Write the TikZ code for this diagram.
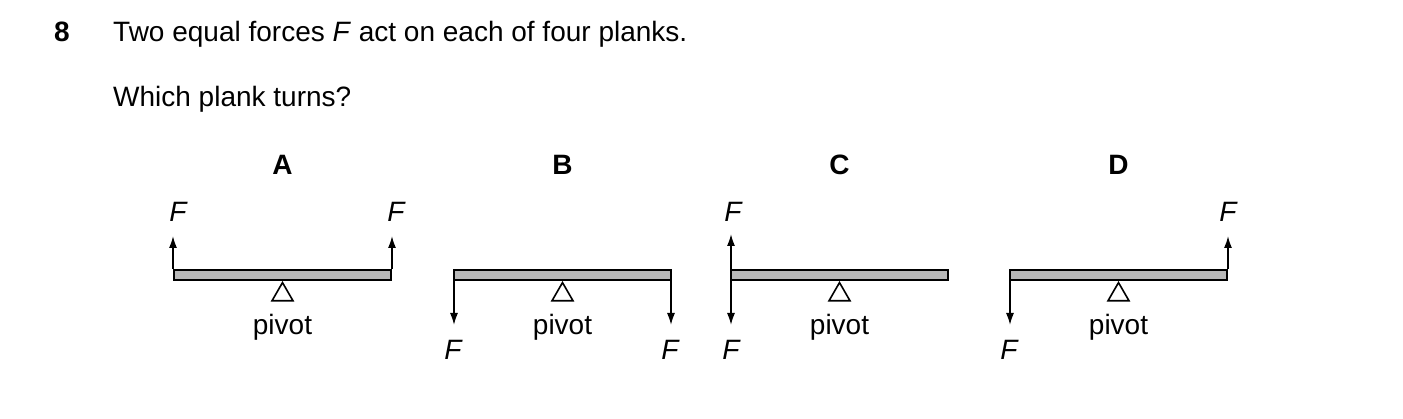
\documentclass[tikz,border=0pt]{standalone}
\usepackage{fontspec}
\setmainfont{Liberation Sans}
\usetikzlibrary{arrows.meta,shapes.geometric}
\tikzset{
  plank/.style={draw,line width=2.5pt,fill=black!28,minimum width=217pt,minimum height=10pt,inner sep=0pt},
  pivot/.style={draw,line width=1.6pt,isosceles triangle,isosceles triangle apex angle=60,shape border rotate=90,minimum width=21pt,minimum height=18pt,inner sep=0pt,fill=white},
  force/.style={line width=1.6pt,-{Latex[length=12pt,width=8pt]}},
  txt/.style={font=\fontsize{28}{33}\selectfont,inner sep=0pt},
  flabel/.style={txt,font=\fontsize{28}{33}\selectfont\itshape},
}
\begin{document}
\begin{tikzpicture}[x=1pt,y=-1pt]
\useasboundingbox (0,0) rectangle (1403,419);
\node[txt,font=\fontsize{28}{33}\selectfont\bfseries,anchor=base west] (num) at (54,42) {8};
\node[txt,anchor=base west] (q1) at (113,42) {Two equal forces \textit{F} act on each of four planks.};
\node[txt,anchor=base west] (q2) at (113,107) {Which plank turns?};
% the four planks
\foreach \name/\x in {A/282.5,B/562.5,C/839.5,D/1118.5}{
  \node[txt,font=\fontsize{28}{33}\selectfont\bfseries] (lab\name) at (\x,165) {\name};
  \node[plank] (p\name) at (\x,275) {};
  \node[pivot,anchor=apex] (t\name) at (\x,281) {};
  \node[txt] (v\name) at (\x,327) {pivot};
}
% forces
\coordinate (aA1) at (173,236); \coordinate (aA2) at (392,236);
\draw[force] (aA1 |- pA.north) -- (aA1);
\draw[force] (aA2 |- pA.north) -- (aA2);
\node[flabel] (fA1) at (178,212) {F};
\node[flabel] (fA2) at (396,212) {F};
\coordinate (aB1) at (454,325); \coordinate (aB2) at (671,325);
\draw[force] (aB1 |- pB.south) -- (aB1);
\draw[force] (aB2 |- pB.south) -- (aB2);
\node[flabel] (fB1) at (453,350) {F};
\node[flabel] (fB2) at (670,350) {F};
\coordinate (aC1) at (731,234); \coordinate (aC2) at (731,325);
\draw[force] (aC1 |- pC.north) -- (aC1);
\draw[force] (aC2 |- pC.south) -- (aC2);
\node[flabel] (fC1) at (733,212) {F};
\node[flabel] (fC2) at (731,350) {F};
\coordinate (aD1) at (1010,325); \coordinate (aD2) at (1228,236);
\draw[force] (aD1 |- pD.south) -- (aD1);
\draw[force] (aD2 |- pD.north) -- (aD2);
\node[flabel] (fD1) at (1009,350) {F};
\node[flabel] (fD2) at (1228,212) {F};
\end{tikzpicture}
\end{document}
